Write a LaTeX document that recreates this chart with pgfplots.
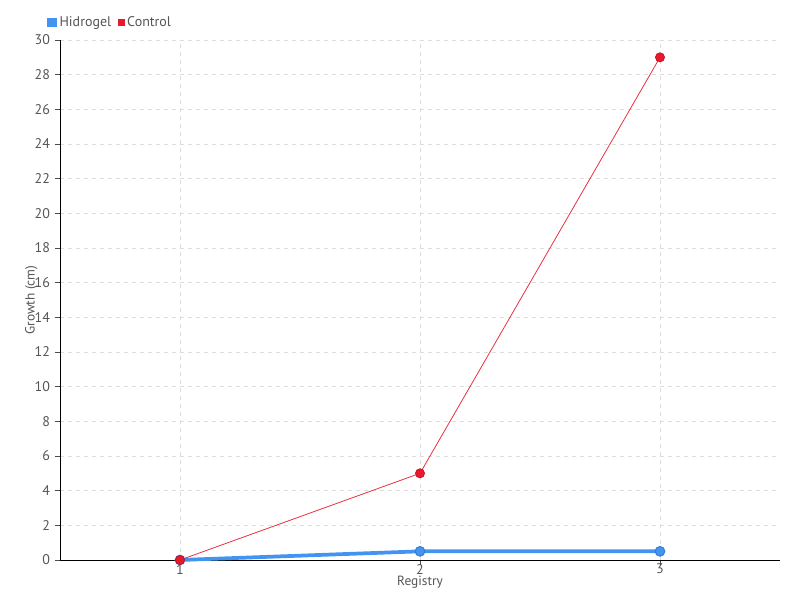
\documentclass[border=0pt]{standalone}
\usepackage{pgfplots}
\pgfplotsset{compat=1.18}
\usepackage{fontspec}
\setmainfont{PT Sans}
\definecolor{hblue}{HTML}{4294F0}
\definecolor{cred}{HTML}{E8192C}
\definecolor{tgray}{HTML}{555555}
\definecolor{ggray}{HTML}{DDDDDD}
\begin{document}
\begin{tikzpicture}[x=1pt,y=1pt]
\path[use as bounding box] (-45,-30) rectangle (555,420);
\begin{axis}[
  at={(0,0)}, anchor=south west,
  scale only axis, width=540pt, height=390pt,
  xmin=0.5, xmax=3.5, ymin=0, ymax=30,
  xtick={1,2,3}, ytick={0,2,...,30},
  axis x line=bottom, axis y line=left,
  axis line style={black, -},
  x axis line style={-}, y axis line style={-},
  tick align=outside,
  major tick length=4pt,
  tick style={black!70, thin},
  grid=major,
  major grid style={ggray, dashed, thin},
  ticklabel style={font=\fontsize{10.5}{12}\selectfont, text=tgray},
  xticklabel style={yshift=4.5pt},
  /pgf/number format/assume math mode=true,
  xlabel={Registry}, ylabel={Growth (cm)},
  label style={font=\fontsize{10}{12}\selectfont, text=tgray},
  xlabel style={yshift=5pt},
  ylabel style={yshift=-9pt},
  legend style={at={(-0.018,1.034)}, anchor=west, draw=none, fill=none,
    legend columns=-1, font=\fontsize{10.5}{12}\selectfont, text=tgray,
    /tikz/every even column/.append style={column sep=3pt},
    inner sep=0pt},
  clip=false,
]
\addplot[hblue, line width=2.8pt, mark=*, mark size=3.6pt,
  mark options={draw=hblue!85!black, fill=hblue, line width=0.8pt},
  legend image code/.code={\fill[hblue] (0pt,-2.2pt) rectangle (4.4pt,2.2pt);}]
  coordinates {(1,0) (2,0.5) (3,0.5)};
\addlegendentry{Hidrogel}
\addplot[cred!90, line width=0.6pt, mark=*, mark size=3.4pt,
  mark options={draw=cred!85!black, fill=cred, line width=0.6pt},
  legend image code/.code={\fill[cred] (0pt,-2.2pt) rectangle (4.4pt,2.2pt);}]
  coordinates {(1,0) (2,5) (3,29)};
\addlegendentry{Control}
\end{axis}
\end{tikzpicture}
\end{document}
